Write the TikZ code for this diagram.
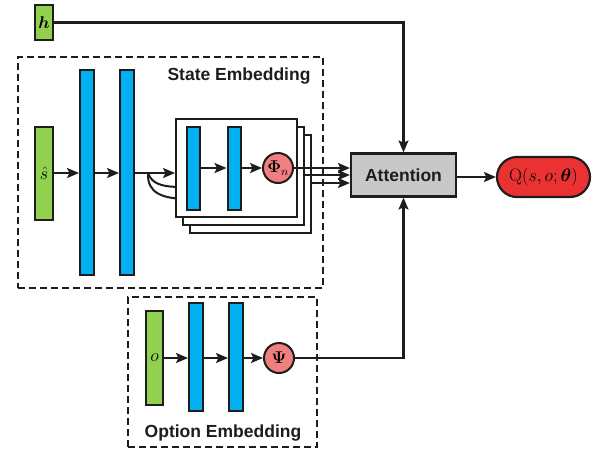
\RequirePackage{fix-cm}
\documentclass[tikz,border=0pt]{standalone}
\usepackage{amsmath,bm}
\usepackage{fontspec}
\setsansfont{Liberation Sans}
\usetikzlibrary{arrows.meta,calc}
\definecolor{vgreen}{RGB}{146,208,80}
\definecolor{vblue}{RGB}{0,176,240}
\definecolor{vpink}{RGB}{240,128,128}
\definecolor{vred}{RGB}{235,50,50}
\definecolor{vgray}{RGB}{200,200,200}
\definecolor{vline}{RGB}{30,28,28}
\begin{document}
\begin{tikzpicture}[x=1pt,y=-1pt,
  >={Stealth[length=12pt,width=10pt,inset=2.5pt]},
  conn/.style={draw=vline,line width=2.2pt,->},
  plain/.style={draw=vline,line width=2pt},
  inbox/.style={draw=vline,fill=vgreen,line width=2pt,inner sep=0pt,anchor=center},
  layer/.style={draw=vline,fill=vblue,line width=2pt,inner sep=0pt,minimum width=14pt,anchor=center},
  act/.style={circle,draw=vline,fill=vpink,line width=2pt,inner sep=0pt,minimum size=30pt},
  stackbox/.style={draw=vline,fill=white,line width=2pt,inner sep=0pt,minimum width=121pt,minimum height=98pt},
  region/.style={draw=vline,dash pattern=on 7pt off 4pt,line width=1.8pt},
  lbl/.style={font=\fontsize{17.5}{20}\selectfont\sffamily\bfseries,text=vline}
]
\useasboundingbox (0,0) rectangle (600,456);

% regions
\node[region,minimum width=305pt,minimum height=231pt,inner sep=0pt] (stateR) at (170.5,172.5) {};
\node[lbl] (stateL) at (239,76) {State Embedding};
\node[region,minimum width=189pt,minimum height=150pt,inner sep=0pt] (optR) at (222.5,372) {};
\node[lbl] (optL) at (223,433) {Option Embedding};

% h input
\node[inbox,minimum width=18pt,minimum height=35pt] (h) at (44,22.5) {\fontsize{17}{19}\selectfont$\bm{h}$};

% state path
\node[inbox,minimum width=18pt,minimum height=93pt] (s) at (44,173.5) {\fontsize{18}{20}\selectfont$\hat{s}$};
\node[layer,minimum height=205pt] (b1) at (87,172.5) {};
\node[layer,minimum height=205pt] (b2) at (127,172.5) {};

% stacked boxes
\node[stackbox] (back3) at (250.5,184) {};
\node[stackbox] (back2) at (243.5,176) {};
\coordinate (cs) at (148,173);
\coordinate (c2) at ($(back2.west)+(0,11)$);
\coordinate (c3) at ($(back3.west)+(0,15)$);
\draw[plain] (cs) .. controls (152,184) and (162,187) .. (c2);
\draw[plain] (cs) .. controls (147,193) and (162,199) .. (c3);
\node[stackbox] (front) at (236.5,168) {};
\node[layer,minimum width=13pt,minimum height=83pt] (ib1) at (193.5,168.5) {};
\node[layer,minimum width=13pt,minimum height=83pt] (ib2) at (234,168.5) {};
\node[act] (phi) at (278,168) {\fontsize{17}{19}\selectfont$\bm{\Phi}_{n}$};

% attention & Q
\node[draw=vline,fill=vgray,line width=2.2pt,minimum width=105pt,minimum height=43pt,inner sep=0pt,lbl] (att) at (403.5,175) {Attention};
\node[draw=vline,fill=vred,line width=2.2pt,minimum width=93pt,minimum height=40pt,inner sep=0pt,rounded corners=20pt] (q) at (543.5,177) {\fontsize{18}{20}\selectfont$\mathrm{Q}(s,o;\bm{\theta})$};

% option path
\node[inbox,minimum width=17pt,minimum height=94pt] (o) at (154.5,358) {\fontsize{18}{20}\selectfont$o$};
\node[layer,minimum height=108pt] (ob1) at (196,357) {};
\node[layer,minimum height=108pt] (ob2) at (236,357) {};
\node[act] (psi) at (279,358) {\fontsize{17}{19}\selectfont$\bm{\Psi}$};

% connectors
\draw[conn] (s.east |- 0,173) -- (b1.west |- 0,173);
\draw[conn] (b1.east |- 0,173) -- (b2.west |- 0,173);
\draw[conn] (b2.east |- 0,173) -- (front.west |- 0,173);
\draw[conn] (ib1.east |- phi) -- (ib2.west |- phi);
\draw[conn] (ib2.east |- phi) -- (phi.west);
\draw[conn] (phi.east) -- (phi -| att.west);
\draw[conn] (back2.east |- 0,175) -- (att.west |- 0,175);
\draw[conn] (back3.east |- 0,183) -- (att.west |- 0,183);
\draw[conn] (h.east) -| (att.north);
\draw[conn] (att.east |- q) -- (q.west);
\draw[conn] (o.east |- psi) -- (ob1.west |- psi);
\draw[conn] (ob1.east |- psi) -- (ob2.west |- psi);
\draw[conn] (ob2.east |- psi) -- (psi.west);
\draw[conn] (psi.east) -| (att.south);
\end{tikzpicture}
\end{document}
